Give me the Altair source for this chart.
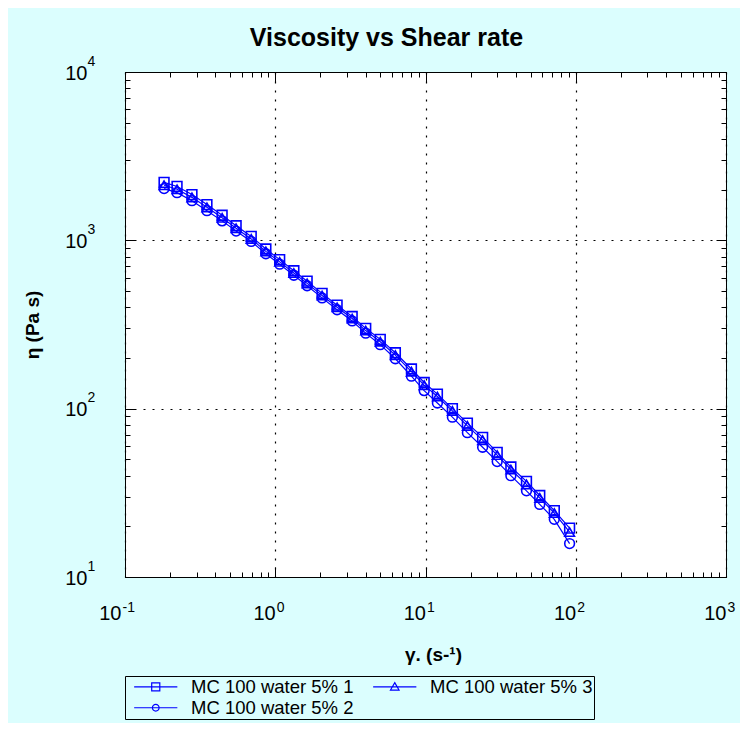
import altair as alt
import pandas as pd

# ---- data ----
shear_rate = [0.182, 0.222, 0.279, 0.351, 0.443, 0.549, 0.692, 0.866, 1.07, 1.33,
              1.63, 2.05, 2.58, 3.25, 4.0, 5.0, 6.3, 8.06, 9.8, 12.0,
              15.1, 19.0, 24.0, 30.0, 37.0, 47.0, 57.6, 72.0, 91.0]
visc_1 = [2210, 2090, 1870, 1630, 1410, 1220, 1055, 888, 768, 660,
          572, 484, 412, 353, 300, 258, 215, 172, 143, 122,
          100, 82, 67.5, 55, 45, 37, 30.5, 24.8, 19.5]
visc_2 = [2030, 1920, 1720, 1500, 1305, 1135, 985, 832, 722, 620,
          537, 455, 387, 332, 281, 240, 198, 156, 128, 108,
          89, 72, 59, 48.5, 40, 32.5, 27, 22, 15.8]
visc_3 = [2125, 2010, 1800, 1570, 1360, 1180, 1020, 860, 745, 640,
          555, 470, 400, 343, 291, 250, 208, 166, 138, 118,
          97, 79, 65, 53, 43.5, 35.5, 29.5, 24, 18.5]
series_names = ["MC 100 water 5% 1", "MC 100 water 5% 2", "MC 100 water 5% 3"]
series_shapes = ["square", "circle", "triangle-up"]

x_major = [0.1, 1, 10, 100, 1000]
x_exponents = ["-1", "0", "1", "2", "3"]
y_major = [10, 100, 1000, 10000]
y_exponents = ["1", "2", "3", "4"]
tick_base = "10"
minor_steps = [2, 3, 4, 5, 6, 7, 8, 9]

# ---- build table ----
rows = []
for name, vals in zip(series_names, [visc_1, visc_2, visc_3]):
    for xv, yv in zip(shear_rate, vals):
        rows.append({"series": name, "rate": xv, "visc": yv})
df = pd.DataFrame(rows)

x_ticks = x_major + [m * d for d in x_major[:-1] for m in minor_steps]
y_ticks = y_major + [m * d for d in y_major[:-1] for m in minor_steps]


def label_expr(vals, labels):
    e = "''"
    for v, l in zip(vals, labels):
        e = f"abs(datum.value - {v}) < {v}*1e-6 ? '{l}' : " + e
    return e


major_test = "abs(log(datum.value)/LN10 - round(log(datum.value)/LN10)) < 0.001"
tick_expr = f"({major_test}) ? -10 : -5"

legend_order = [series_names[0], series_names[2], series_names[1]]
shape_range = [series_shapes[0], series_shapes[2], series_shapes[1]]

path_line = "M-4.8,0H4.8"
legend_path_map = {
    series_names[0]: path_line + "M-0.9,-0.9H0.9V0.9H-0.9Z",
    series_names[1]: path_line + "M0.75,0A0.75,0.75 0 1,1 -0.75,0A0.75,0.75 0 1,1 0.75,0Z",
    series_names[2]: path_line + "M0,-0.95L0.95,0.7H-0.95Z",
}
legend_paths = [legend_path_map[n] for n in legend_order]

FONT = "Liberation Sans"
BLUE = "#0000FF"
BG = "#DBFEFE"


def xaxis(orient, labels):
    return alt.Axis(
        orient=orient, values=x_ticks, labels=labels,
        labelExpr=label_expr(x_major, [tick_base] * len(x_major)),
        labelFont=FONT, labelFontSize=20, labelColor="black", labelPadding=36,
        labelAlign="right", labelBaseline="top",
        labelOffset={"condition": {"test": "datum.value < 0.5", "value": -4}, "value": 0},
        labelFlush=False, labelOverlap=False,
        tickColor="black", tickWidth=1,
        tickSize={"expr": tick_expr},
        grid=(orient == "bottom"), gridColor="black", gridDash=[2, 7], gridWidth=1.2,
        gridOpacity={"condition": {"test": major_test, "value": 1}, "value": 0},
        domainColor="black", domainWidth=1,
        title="γ. (s-¹)" if labels else None,
        titleFont=FONT, titleFontSize=19, titleFontWeight="bold", titleColor="black",
        titlePadding=17, titleX=308,
    )


def yaxis(orient, labels):
    return alt.Axis(
        orient=orient, values=y_ticks, labels=labels,
        labelExpr=label_expr(y_major, [tick_base] * len(y_major)),
        labelFont=FONT, labelFontSize=20, labelColor="black", labelPadding=48,
        labelAlign="right", labelBaseline="middle", labelOffset=1,
        labelFlush=False, labelOverlap=False,
        tickColor="black", tickWidth=1,
        tickSize={"expr": tick_expr},
        grid=(orient == "left"), gridColor="black", gridDash=[2, 7], gridWidth=1.2,
        gridOpacity={"condition": {"test": major_test, "value": 1}, "value": 0},
        domainColor="black", domainWidth=1,
        title="η (Pa s)" if labels else None,
        titleFont=FONT, titleFontSize=19, titleFontWeight="bold", titleColor="black",
        titlePadding=22,
    )


# exponent-only axes (superscripts of the decade labels)
x_exp_axis = alt.Axis(
    orient="bottom", values=x_major, labelExpr=label_expr(x_major, x_exponents),
    labelFont=FONT, labelFontSize=14, labelColor="black", labelPadding=23,
    labelAlign="left", labelBaseline="top",
    labelOffset={"condition": {"test": "datum.value < 0.5", "value": -3}, "value": 1},
    labelFlush=False, labelOverlap=False,
    ticks=False, tickSize=0, domain=False, grid=False, title=None,
)
y_exp_axis = alt.Axis(
    orient="left", values=y_major, labelExpr=label_expr(y_major, y_exponents),
    labelFont=FONT, labelFontSize=14, labelColor="black", labelPadding=38,
    labelAlign="left", labelBaseline="middle", labelOffset=-11,
    labelFlush=False, labelOverlap=False,
    ticks=False, tickSize=0, domain=False, grid=False, title=None,
)

xscale = alt.Scale(type="log", domain=[0.1, 1000], nice=False)
yscale = alt.Scale(type="log", domain=[10, 10000], nice=False)

lines = alt.Chart(df).mark_line(color=BLUE, strokeWidth=1.2).encode(
    x=alt.X("rate:Q", scale=xscale, axis=xaxis("bottom", True)),
    y=alt.Y("visc:Q", scale=yscale, axis=yaxis("left", True)),
    detail="series:N",
)

points = alt.Chart(df).mark_point(filled=False, color=BLUE, size=95, strokeWidth=1.6, opacity=1).encode(
    x=alt.X("rate:Q", scale=xscale, axis=xaxis("top", False)),
    y=alt.Y("visc:Q", scale=yscale, axis=yaxis("right", False)),
    shape=alt.Shape("series:N", scale=alt.Scale(domain=legend_order, range=shape_range), legend=None),
)

# invisible layer that carries the legend (line + marker symbols) and exponent labels
legend_layer = alt.Chart(df).mark_point(filled=False, color=BLUE, opacity=0).encode(
    x=alt.X("rate:Q", scale=xscale, axis=x_exp_axis),
    y=alt.Y("visc:Q", scale=yscale, axis=y_exp_axis),
    shape=alt.Shape(
        "series:N",
        scale=alt.Scale(domain=legend_order, range=legend_paths),
        legend=alt.Legend(
            title=None, orient="none", legendX=0, legendY=604,
            direction="horizontal", columns=2, columnPadding=12, rowPadding=2,
            symbolSize=81, symbolOffset=20, labelOffset=26, symbolOpacity=1,
            symbolStrokeColor=BLUE, symbolFillColor="transparent", symbolStrokeWidth=1.2,
            labelFont=FONT, labelFontSize=18.5, labelColor="black", labelLimit=400,
            strokeColor="black", fillColor=BG, padding=1.5,
        ),
    ),
)

chart = (
    alt.layer(lines, points, legend_layer)
    .resolve_axis(x="independent", y="independent")
    .resolve_scale(shape="independent")
    .properties(
        width=601, height=505,
        autosize=alt.AutoSizeParams(type="none"),
        padding={"left": 117, "top": 64, "right": 14, "bottom": 146},
        background=BG,
        title=alt.TitleParams(
            "Viscosity vs Shear rate", font=FONT, fontSize=25, fontWeight="bold",
            color="black", anchor="middle", dx=-39, offset=3,
        ),
    )
    .configure_view(fill="white", stroke="black", strokeWidth=1)
)

chart.save("out.html", embed_options={"renderer": "svg", "actions": False})
